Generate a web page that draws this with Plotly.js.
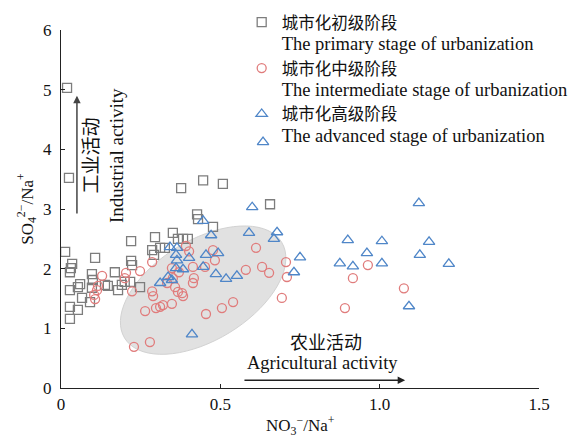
<!DOCTYPE html>
<html><head><meta charset="utf-8">
<script src="https://cdn.plot.ly/plotly-3.0.1.min.js"></script>
<style>body{margin:0;background:#fff}#c{width:573px;height:437px}</style>
</head><body><div id="c"></div>
<script>
// Primary stage (gray squares)
const primaryX = [0.019,0.025,0.013,0.035,0.031,0.028,0.107,0.22,0.22,0.223,0.097,0.169,0.10,0.06,0.053,0.028,0.097,0.138,0.147,0.179,0.191,0.20,0.217,0.248,0.066,0.091,0.028,0.053,0.028,0.295,0.351,0.367,0.383,0.398,0.286,0.311,0.326,0.292,0.377,0.446,0.508,0.427,0.43,0.477,0.656];
const primaryY = [5.03,3.52,2.28,2.08,2.01,1.94,2.18,2.46,2.13,2.06,1.91,1.94,1.81,1.74,1.69,1.64,1.68,1.73,1.71,1.64,1.73,1.78,1.78,1.69,1.51,1.44,1.36,1.31,1.16,2.53,2.60,2.50,2.50,2.50,2.31,2.35,2.35,2.23,3.35,3.48,3.42,2.91,2.83,2.70,3.08];
// Intermediate stage (red circles)
const interX = [0.129,0.116,0.113,0.104,0.107,0.204,0.20,0.248,0.286,0.223,0.286,0.289,0.264,0.298,0.311,0.32,0.392,0.402,0.477,0.483,0.348,0.37,0.414,0.351,0.417,0.414,0.333,0.358,0.367,0.38,0.383,0.348,0.455,0.505,0.54,0.58,0.229,0.279,0.612,0.631,0.653,0.706,0.709,0.693,0.891,0.963,0.916,1.076,0.452];
const interY = [1.88,1.71,1.64,1.56,1.49,1.93,1.84,1.96,2.11,1.62,1.62,1.54,1.29,1.34,1.36,1.39,2.38,2.29,2.31,2.14,2.01,1.94,2.03,1.84,1.84,1.76,1.76,1.69,1.61,1.59,1.54,1.41,1.24,1.34,1.44,1.98,0.69,0.77,2.35,2.03,1.93,2.11,1.86,1.51,1.34,2.06,1.84,1.67,2.03];
// Advanced stage (blue triangles)
const advX = [0.634,0.60,0.446,0.471,0.59,0.678,0.668,0.90,1.007,1.123,1.155,0.96,1.126,0.916,1.007,1.217,1.092,0.75,0.731,0.455,0.493,0.486,0.518,0.552,0.342,0.364,0.361,0.364,0.402,0.361,0.383,0.446,0.336,0.311,0.348,0.411,0.875];
const advY = [4.12,3.03,2.80,2.56,2.60,2.61,2.50,2.48,2.46,3.10,2.45,2.26,2.23,2.04,2.09,2.08,1.37,2.19,1.94,2.23,2.26,1.91,1.83,1.88,2.36,2.35,2.23,2.14,2.18,2.01,1.99,2.03,1.86,1.76,1.81,0.90,2.09];

const seriesZh = ['城市化初级阶段','城市化中级阶段','城市化高级阶段'];
const seriesEn = ['The primary stage of urbanization','The intermediate stage of urbanization','The advanced stage of urbanization'];
const xTickVals = [0,0.5,1.0,1.5];
const xTickText = ['0','0.5','1.0','1.5'];
const yTickVals = [0,1,2,3,4,5,6];

const W=573,H=437,M={l:61,r:34,t:30,b:49,autoexpand:false};
const xRange=[0,1.5], yRange=[0,6];
const sx=(W-M.l-M.r)/(xRange[1]-xRange[0]);
const sy=(H-M.t-M.b)/(yRange[1]-yRange[0]);

// ellipse (pixel geometry converted to data units)
const ec={x:0.446,y:1.64}, ea=92, eb=50, eth=31.4*Math.PI/180;
let path='';
for(let i=0;i<=72;i++){
  const t=i/72*2*Math.PI;
  const dx=ea*Math.cos(t)*Math.cos(eth)-eb*Math.sin(t)*Math.sin(eth);
  const dy=ea*Math.cos(t)*Math.sin(eth)+eb*Math.sin(t)*Math.cos(eth);
  path+=(i===0?'M':'L')+(ec.x+dx/sx).toFixed(4)+','+(ec.y+dy/sy).toFixed(4);
}
path+='Z';

const serif='"Liberation Serif","Times New Roman","Noto Sans CJK SC",serif';
const nm=i=>seriesZh[i]+'<br><span style="font-size:18.5px">'+seriesEn[i]+'</span>';
const mk=(sym,col,sz)=>({symbol:sym,size:sz,color:col,line:{width:1.3,color:col}});
const traces=[
 {x:primaryX,y:primaryY,mode:'markers',type:'scatter',name:nm(0),marker:mk('square-open','#7d7d7d',9),cliponaxis:false},
 {x:interX,y:interY,mode:'markers',type:'scatter',name:nm(1),marker:mk('circle-open','#e07c7c',9),cliponaxis:false},
 {x:advX,y:advY,mode:'markers',type:'scatter',name:nm(2),marker:mk('triangle-up-open','#4f86c8',10),cliponaxis:false}
];
const layout={
 width:W,height:H,margin:M,paper_bgcolor:'#fff',plot_bgcolor:'#fff',
 font:{family:serif,size:17,color:'#111'},
 xaxis:{range:xRange,tickmode:'array',tickvals:xTickVals,ticktext:xTickText,ticks:'inside',ticklen:4,tickcolor:'#222',
   showline:true,linecolor:'#222',linewidth:1.2,showgrid:false,zeroline:false,automargin:false},
 yaxis:{range:yRange,tickmode:'array',tickvals:yTickVals,ticks:'inside',ticklen:4,tickcolor:'#222',ticklabelstandoff:5,
   showline:true,linecolor:'#222',linewidth:1.2,showgrid:false,zeroline:false,automargin:false,
   title:{text:'SO<sub>4</sub><sup>2−</sup>/Na<sup>+</sup>',font:{size:17},standoff:5}},
 legend:{x:0.378,y:1.07,xanchor:'left',yanchor:'top',valign:'top',bgcolor:'rgba(0,0,0,0)',font:{family:serif,size:16.5},tracegroupgap:0},
 shapes:[{type:'path',path:path,xref:'x',yref:'y',fillcolor:'#e1e1e1',line:{color:'#d2d2d2',width:1},layer:'below'}],
 annotations:[
  {x:0.5,y:-0.106,xref:'paper',yref:'paper',text:'NO<sub>3</sub><sup>−</sup>/Na<sup>+</sup>',showarrow:false,font:{size:17},xanchor:'center',yanchor:'middle'},
  {x:0.05,y:4.9,ax:0.05,ay:2.9,xref:'x',yref:'y',axref:'x',ayref:'y',text:'',showarrow:true,arrowhead:2,arrowsize:1,arrowwidth:1.5,arrowcolor:'#444'},
  {x:1.08,y:0.13,ax:0.571,ay:0.13,xref:'x',yref:'y',axref:'x',ayref:'y',text:'',showarrow:true,arrowhead:2,arrowsize:1,arrowwidth:1.5,arrowcolor:'#222'},
  {x:0.095,y:3.9,xref:'x',yref:'y',text:'工业活动',showarrow:false,textangle:-90,font:{size:19}},
  {x:0.175,y:3.9,xref:'x',yref:'y',text:'Industrial activity',showarrow:false,textangle:-90,font:{size:19}},
  {x:0.833,y:0.75,xref:'x',yref:'y',text:'农业活动',showarrow:false,font:{size:18}},
  {x:0.82,y:0.42,xref:'x',yref:'y',text:'Agricultural activity',showarrow:false,font:{size:18.5}}
 ]
};
Plotly.newPlot('c',traces,layout,{displayModeBar:false,staticPlot:true});
</script></body></html>
